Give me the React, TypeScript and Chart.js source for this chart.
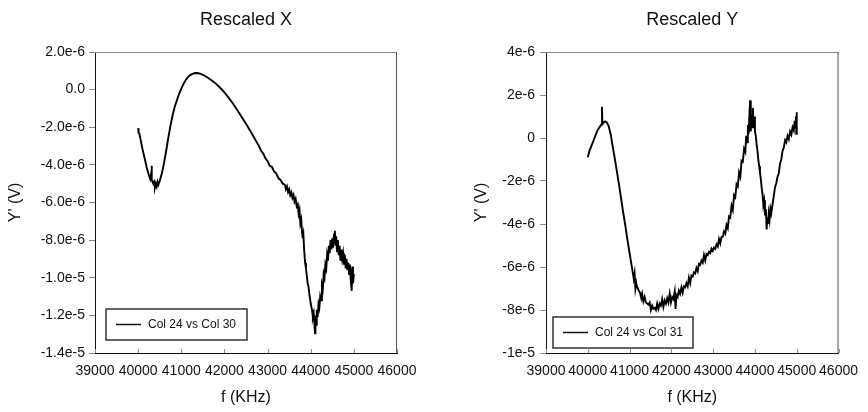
import React, { useEffect, useRef } from "react";
import { Chart, registerables } from "chart.js";

Chart.register(...registerables);

// ---------- Data ----------
const xTickValues = [39000, 40000, 41000, 42000, 43000, 44000, 45000, 46000];
const xTickLabels = ["39000", "40000", "41000", "42000", "43000", "44000", "45000", "46000"];

const leftYTickValues = [2e-6, 0, -2e-6, -4e-6, -6e-6, -8e-6, -1e-5, -1.2e-5, -1.4e-5];
const leftYTickLabels = ["2.0e-6", "0.0", "-2.0e-6", "-4.0e-6", "-6.0e-6", "-8.0e-6", "-1.0e-5", "-1.2e-5", "-1.4e-5"];

const rightYTickValues = [4e-6, 2e-6, 0, -2e-6, -4e-6, -6e-6, -8e-6, -1e-5];
const rightYTickLabels = ["4e-6", "2e-6", "0", "-2e-6", "-4e-6", "-6e-6", "-8e-6", "-1e-5"];

// Col 24 (frequency, Hz) vs Col 30 (Y', micro-volts)
const col24A = [
  40000, 40010, 40030, 40060, 40100, 40150, 40200, 40250, 40280, 40300, 40310, 40320, 40350, 40370, 40390,
  40410, 40430, 40450, 40470, 40500, 40550, 40600, 40650, 40700, 40750, 40800, 40850, 40900, 40950, 41000,
  41050, 41100, 41150, 41200, 41250, 41300, 41350, 41400, 41450, 41500, 41600, 41700, 41800, 41900, 42000,
  42100, 42200, 42300, 42400, 42500, 42600, 42700, 42800, 42850, 42900, 42950, 43000, 43050, 43100, 43150,
  43200, 43250, 43300, 43350, 43400, 43425, 43450, 43475, 43500, 43525, 43550, 43575, 43600, 43625, 43650,
  43675, 43700, 43720, 43740, 43760, 43780, 43800, 43815, 43830, 43850, 43870, 43890, 43910, 43930, 43950,
  43970, 43990, 44010, 44030, 44050, 44070, 44085, 44100, 44110, 44125, 44140, 44160, 44180, 44200, 44220,
  44240, 44260, 44280, 44300, 44320, 44340, 44360, 44380, 44400, 44420, 44440, 44460, 44480, 44500, 44520,
  44540, 44560, 44575, 44590, 44610, 44630, 44650, 44670, 44690, 44710, 44730, 44750, 44770, 44790, 44810,
  44830, 44850, 44870, 44890, 44910, 44930, 44950, 44965, 44980, 45000,
];
const col30 = [
  -2.05, -2.3, -2.35, -2.7, -3.15, -3.65, -4.15, -4.55, -4.75, -4.5, -4.05, -4.8, -5.0, -4.9, -5.2,
  -5.0, -5.15, -4.9, -5.05, -4.85, -4.45, -3.9, -3.25, -2.55, -1.9, -1.35, -0.9, -0.55, -0.22, 0.05,
  0.3, 0.5, 0.65, 0.76, 0.83, 0.87, 0.88, 0.87, 0.84, 0.79, 0.66, 0.5, 0.32, 0.1, -0.15,
  -0.44, -0.75, -1.1, -1.45, -1.82, -2.2, -2.6, -3.0, -3.25, -3.4, -3.65, -3.8, -4.05, -4.1, -4.35,
  -4.45, -4.7, -4.8, -5.0, -5.05, -5.3, -5.15, -5.45, -5.3, -5.6, -5.45, -5.75, -5.6, -5.95, -5.8,
  -6.2, -6.1, -6.6, -6.4, -7.1, -6.9, -7.6, -7.9, -7.7, -8.6, -9.2, -9.5, -9.9, -10.3, -10.5,
  -10.9, -11.2, -11.5, -11.7, -12.1, -11.9, -12.4, -12.95, -12.0, -12.5, -11.7, -12.1, -11.4, -11.6, -11.0,
  -11.2, -10.4, -10.6, -9.8, -10.0, -9.3, -9.5, -8.8, -9.1, -8.3, -8.7, -8.0, -8.5, -7.9, -8.4,
  -7.7, -7.5, -8.3, -7.8, -8.6, -8.0, -8.8, -8.3, -9.1, -8.5, -9.0, -8.7, -9.3, -8.8, -9.5,
  -9.0, -9.6, -9.2, -9.8, -9.3, -10.2, -10.7, -9.4, -10.3, -9.8,
];

// Col 24 (frequency, Hz) vs Col 31 (Y', micro-volts)
const col24B = [
  40000, 40040, 40080, 40120, 40160, 40200, 40240, 40280, 40320, 40340, 40350, 40380, 40420, 40450, 40500,
  40550, 40600, 40650, 40700, 40750, 40800, 40850, 40900, 40950, 41000, 41050, 41080, 41100, 41120, 41140,
  41160, 41180, 41200, 41220, 41250, 41280, 41300, 41330, 41360, 41390, 41420, 41450, 41480, 41510, 41540,
  41570, 41600, 41630, 41660, 41690, 41720, 41750, 41780, 41810, 41840, 41870, 41900, 41930, 41960, 41990,
  42020, 42050, 42080, 42100, 42120, 42150, 42180, 42210, 42240, 42270, 42300, 42330, 42360, 42390, 42420,
  42450, 42480, 42510, 42540, 42570, 42600, 42630, 42660, 42690, 42720, 42750, 42780, 42810, 42840, 42870,
  42900, 42930, 42960, 42990, 43020, 43050, 43080, 43110, 43140, 43170, 43200, 43230, 43260, 43290, 43320,
  43350, 43380, 43410, 43440, 43470, 43500, 43530, 43560, 43590, 43620, 43650, 43680, 43710, 43740, 43770,
  43790, 43810, 43830, 43850, 43870, 43885, 43900, 43915, 43930, 43950, 43965, 43980, 44000, 44020, 44040,
  44060, 44080, 44100, 44120, 44140, 44160, 44180, 44200, 44220, 44240, 44260, 44280, 44295, 44310, 44330,
  44350, 44370, 44390, 44420, 44450, 44480, 44510, 44540, 44570, 44600, 44630, 44660, 44690, 44720, 44750,
  44780, 44810, 44840, 44870, 44900, 44930, 44950, 44965, 44980, 44990, 45000,
];
const col31 = [
  -0.9, -0.6, -0.4, -0.2, 0.0, 0.2, 0.38, 0.5, 0.62, 1.45, 0.65, 0.72, 0.77, 0.74, 0.55,
  0.15, -0.45, -1.0, -1.6, -2.2, -2.85, -3.5, -4.1, -4.75, -5.35, -5.95, -6.3, -6.55, -6.3, -7.0,
  -6.75, -6.95, -7.0, -7.1, -7.2, -7.45, -7.25, -7.6, -7.4, -7.65, -7.7, -7.75, -7.65, -8.0, -7.8,
  -7.95, -7.9, -8.0, -7.7, -7.95, -7.7, -7.8, -7.5, -7.85, -7.55, -7.7, -7.45, -7.65, -7.25, -7.65,
  -7.4, -7.5, -7.15, -7.95, -7.3, -7.4, -7.1, -7.25, -6.95, -7.2, -6.9, -6.95, -6.75, -6.9, -6.5,
  -6.75, -6.4, -6.45, -6.25, -6.3, -6.05, -6.2, -5.85, -5.9, -5.7, -5.8, -5.45, -5.7, -5.4, -5.45,
  -5.3, -5.35, -5.15, -5.25, -5.1, -5.15, -4.95, -5.05, -4.7, -4.9, -4.6, -4.6, -4.35, -4.45, -4.05,
  -4.2, -3.65, -3.7, -3.15, -3.35, -2.65, -2.75, -2.15, -2.25, -1.6, -1.8, -1.05, -1.1, -0.5, -0.65,
  0.1, -0.2, 0.6, 0.2, 1.2, 1.75, 0.3, 1.1, 0.5, 1.4, 0.7, 1.0, 0.3, 0.1, -0.3,
  -0.6, -1.0, -1.3, -1.6, -1.9, -2.3, -2.6, -3.1, -2.9, -3.6, -3.3, -4.25, -3.7, -4.0, -3.5,
  -3.8, -3.3, -3.5, -3.1, -2.7, -2.3, -2.1, -1.8, -1.65, -1.2, -1.0, -0.6, -0.45, -0.1, -0.2,
  0.1, -0.05, 0.3, 0.15, 0.5, 0.35, 0.8, 0.5, 1.0, 0.2, 1.2,
];

const FONT = "'Liberation Sans', Arial, Helvetica, sans-serif";

type PanelCfg = {
  title: string;
  label: string;
  xs: number[];
  ys: number[];
  yMin: number;
  yMax: number;
  yTicks: number[];
  yTickLabels: string[];
  yAxisWidth: number;
  yTitlePad: number;
  yTickPad: number;
  padRight: number;
  legendBox: { x: number; y: number; w: number; h: number };
};

const framePlugin = {
  id: "frameTicks",
  afterDraw(chart: any) {
    const { ctx, chartArea } = chart;
    const { left, right, top, bottom } = chartArea;
    ctx.save();
    ctx.lineWidth = 1;
    ctx.strokeStyle = "#8a8a8a";
    ctx.beginPath();
    ctx.moveTo(left, top + 0.5);
    ctx.lineTo(right, top + 0.5);
    ctx.stroke();
    ctx.strokeStyle = "#555";
    ctx.beginPath();
    ctx.moveTo(right - 0.5, top);
    ctx.lineTo(right - 0.5, bottom);
    ctx.stroke();
    const xs = chart.scales.x;
    ctx.strokeStyle = "#8a8a8a";
    xs.ticks.forEach((t: any) => {
      const px = Math.round(xs.getPixelForValue(t.value)) + 0.5;
      ctx.beginPath();
      ctx.moveTo(px, bottom);
      ctx.lineTo(px, bottom - 4);
      ctx.stroke();
    });
    ctx.restore();
  },
};

const boxLegendPlugin = {
  id: "boxLegend",
  afterDraw(chart: any, _args: any, opts: any) {
    const { ctx } = chart;
    const ds = chart.data.datasets[0];
    const { x, y, w, h } = opts;
    ctx.save();
    ctx.fillStyle = "#fff";
    ctx.fillRect(x, y, w, h);
    ctx.strokeStyle = "#333";
    ctx.lineWidth = 1.5;
    ctx.strokeRect(x, y, w, h);
    const my = y + h / 2;
    ctx.strokeStyle = "#111";
    ctx.lineWidth = 1.5;
    ctx.beginPath();
    ctx.moveTo(x + 10, my);
    ctx.lineTo(x + 35, my);
    ctx.stroke();
    ctx.fillStyle = "#111";
    ctx.font = `12px ${FONT}`;
    ctx.textBaseline = "middle";
    ctx.textAlign = "left";
    ctx.fillText(ds.label, x + 42, my + 0.5);
    ctx.restore();
  },
};

function makeChart(canvas: HTMLCanvasElement, cfg: PanelCfg) {
  const data = cfg.xs.map((f, i) => ({ x: f, y: cfg.ys[i] * 1e-6 }));
  const findLabel = (vals: number[], labels: string[], v: number) => {
    const i = vals.findIndex((t) => Math.abs(t - v) < 1e-12);
    return i >= 0 ? labels[i] : "";
  };
  return new Chart(canvas, {
    type: "line",
    data: {
      datasets: [
        {
          label: cfg.label,
          data,
          borderColor: "#000",
          borderWidth: 1.9,
          pointRadius: 0,
          tension: 0,
          fill: false,
        },
      ],
    },
    plugins: [framePlugin, boxLegendPlugin],
    options: {
      animation: false,
      responsive: false,
      devicePixelRatio: 1,
      events: [],
      layout: { padding: { left: 0, right: cfg.padRight, top: 0, bottom: 0 } },
      plugins: {
        legend: { display: false },
        tooltip: { enabled: false },
        title: {
          display: true,
          text: cfg.title,
          fullSize: false,
          color: "#111",
          font: { family: FONT, size: 18, weight: "normal" },
          padding: { top: 9, bottom: 21.4 },
        },
        boxLegend: cfg.legendBox,
      } as any,
      scales: {
        x: {
          type: "linear",
          min: 39000,
          max: 46000,
          afterBuildTicks: (s: any) => {
            s.ticks = xTickValues.map((v) => ({ value: v }));
          },
          afterFit: (s: any) => {
            s.height = 59;
          },
          ticks: {
            callback: (v: any) => findLabel(xTickValues, xTickLabels, Number(v)),
            font: { family: FONT, size: 14 },
            color: "#111",
            padding: 10,
            maxRotation: 0,
            autoSkip: false,
          },
          grid: { drawOnChartArea: false, drawTicks: false },
          border: { display: true, color: "#111", width: 1 },
          title: {
            display: true,
            text: "f (KHz)",
            color: "#111",
            font: { family: FONT, size: 16 },
            padding: { top: 0, bottom: 4.4 },
          },
        },
        y: {
          type: "linear",
          min: cfg.yMin,
          max: cfg.yMax,
          afterBuildTicks: (s: any) => {
            s.ticks = [...cfg.yTicks].sort((a, b) => a - b).map((v) => ({ value: v }));
          },
          afterFit: (s: any) => {
            s.width = cfg.yAxisWidth;
          },
          ticks: {
            callback: (v: any) => findLabel(cfg.yTicks, cfg.yTickLabels, Number(v)),
            font: { family: FONT, size: 14 },
            color: "#111",
            padding: cfg.yTickPad,
            autoSkip: false,
          },
          grid: { drawOnChartArea: false, drawTicks: true, tickLength: 6, color: "#8a8a8a" },
          border: { display: true, color: "#111", width: 1 },
          title: {
            display: true,
            text: "Y' (V)",
            color: "#111",
            font: { family: FONT, size: 16 },
            padding: { top: cfg.yTitlePad, bottom: 0 },
          },
        },
      },
    } as any,
  });
}

function Panel({ cfg, left }: { cfg: PanelCfg; left: number }) {
  const ref = useRef<HTMLCanvasElement | null>(null);
  useEffect(() => {
    if (!ref.current) return;
    const chart = makeChart(ref.current, cfg);
    return () => chart.destroy();
  }, [cfg]);
  return (
    <canvas
      ref={ref}
      width={434}
      height={412}
      style={{ position: "absolute", left, top: 0, width: 434, height: 412 }}
    />
  );
}

const leftCfg: PanelCfg = {
  title: "Rescaled X",
  label: "Col 24 vs Col 30",
  xs: col24A,
  ys: col30,
  yMin: -1.4e-5,
  yMax: 2e-6,
  yTicks: leftYTickValues,
  yTickLabels: leftYTickLabels,
  yAxisWidth: 95,
  yTitlePad: 6.4,
  yTickPad: 4,
  padRight: 37,
  legendBox: { x: 106, y: 309, w: 141, h: 31 },
};

const rightCfg: PanelCfg = {
  title: "Rescaled Y",
  label: "Col 24 vs Col 31",
  xs: col24B,
  ys: col31,
  yMin: -1e-5,
  yMax: 4e-6,
  yTicks: rightYTickValues,
  yTickLabels: rightYTickLabels,
  yAxisWidth: 112,
  yTitlePad: 38.4,
  yTickPad: 5,
  padRight: 20,
  legendBox: { x: 119, y: 317, w: 140, h: 31 },
};

export default function App() {
  return (
    <div style={{ position: "absolute", left: 0, top: 0, width: 868, height: 412, background: "#fff" }}>
      <Panel cfg={leftCfg} left={0} />
      <Panel cfg={rightCfg} left={434} />
    </div>
  );
}
